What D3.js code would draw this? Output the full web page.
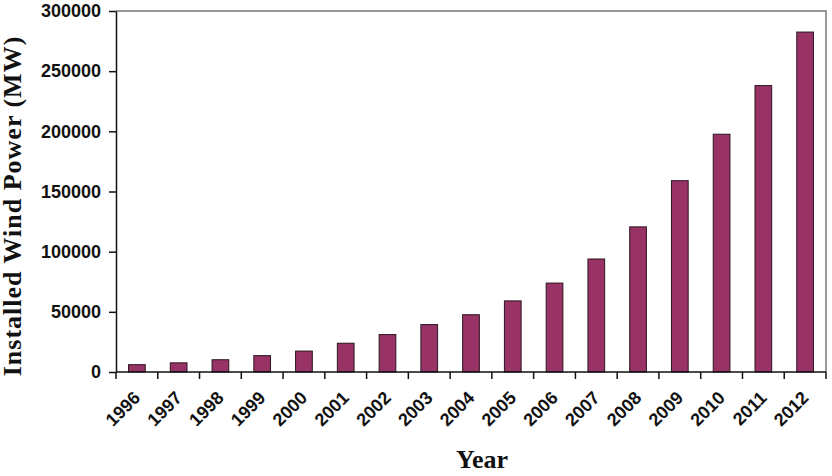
<html>
<head>
    <script src="https://d3js.org/d3.v7.min.js" charset="utf-8"></script>
</head>
<body style="margin:0">
    <script type="text/javascript">
        var width = 832;
        var height = 476;

        var margin = { top: 11, right: 6, bottom: 104, left: 116 };

        // Installed wind power by year (MW)
        const years = ["1996", "1997", "1998", "1999", "2000", "2001", "2002", "2003", "2004",
                       "2005", "2006", "2007", "2008", "2009", "2010", "2011", "2012"];
        const capacity = [6100, 7600, 10200, 13600, 17400, 23900, 31100, 39400, 47600,
                          59100, 73900, 93900, 120600, 159000, 197600, 238000, 282500];
        const yTicks = [0, 50000, 100000, 150000, 200000, 250000, 300000];

        const data = years.map((y, i) => ({ year: y, value: capacity[i] }));

        const svg = d3.select("body").append("svg")
            .attr("width", width)
            .attr("height", height)
            .style("background", "white");

        const xScale = d3.scaleBand()
            .domain(years)
            .range([margin.left, width - margin.right])
            .paddingInner(0.6)
            .paddingOuter(0.3);

        const yScale = d3.scaleLinear()
            .domain([0, 300000])
            .range([height - margin.bottom, margin.top]);

        const x0 = margin.left, x1 = width - margin.right;
        const y0 = height - margin.bottom, y1 = margin.top;
        const step = (x1 - x0) / years.length;

        // plot frame (top and right)
        svg.append("path")
            .attr("d", `M${x0},${y1}H${x1}V${y0}`)
            .attr("fill", "none")
            .attr("stroke", "#777")
            .attr("stroke-width", 1.5);

        // bars
        svg.append("g")
            .selectAll("rect")
            .data(data)
            .join("rect")
                .attr("x", d => xScale(d.year))
                .attr("y", d => yScale(d.value))
                .attr("width", xScale.bandwidth())
                .attr("height", d => yScale(0) - yScale(d.value))
                .attr("fill", "#993366")
                .attr("stroke", "#2a1520")
                .attr("stroke-width", 1);

        // y axis
        const yAxis = svg.append("g")
            .attr("transform", `translate(${x0},0)`)
            .call(d3.axisLeft(yScale).tickValues(yTicks).tickSize(7).tickSizeOuter(0).tickPadding(8).tickFormat(d3.format("d")));
        yAxis.selectAll("text")
            .style("font-family", "'Liberation Sans', Arial, sans-serif")
            .style("font-weight", "bold")
            .style("font-size", "18px")
            .attr("fill", "#111");
        yAxis.select(".domain").attr("stroke", "#111").attr("stroke-width", 1.5);
        yAxis.selectAll(".tick line").attr("stroke", "#111").attr("stroke-width", 1.5);

        // x axis: ticks between categories
        const xAxis = svg.append("g").attr("transform", `translate(0,${y0})`);
        xAxis.append("line")
            .attr("x1", x0).attr("x2", x1)
            .attr("stroke", "#111").attr("stroke-width", 1.5);
        xAxis.selectAll(".tick")
            .data(d3.range(years.length + 1))
            .join("line")
                .attr("x1", i => x0 + i * step)
                .attr("x2", i => x0 + i * step)
                .attr("y1", 0).attr("y2", 7)
                .attr("stroke", "#111").attr("stroke-width", 1.5);
        xAxis.selectAll(".lbl")
            .data(years)
            .join("text")
                .attr("transform", d => `translate(${xScale(d) + xScale.bandwidth() / 2 + 4.5},27) rotate(-45)`)
                .attr("text-anchor", "end")
                .style("font-family", "'Liberation Sans', Arial, sans-serif")
                .style("font-weight", "bold")
                .style("font-size", "18px")
                .attr("fill", "#111")
                .text(d => d);

        // axis titles
        svg.append("text")
            .attr("transform", `translate(21,206) rotate(-90)`)
            .attr("text-anchor", "middle")
            .style("font-family", "'Liberation Serif', 'Times New Roman', serif")
            .style("font-weight", "bold")
            .style("font-size", "26px")
            .style("letter-spacing", "1px")
            .attr("fill", "#111")
            .text("Installed Wind Power (MW)");

        svg.append("text")
            .attr("x", 482)
            .attr("y", 468)
            .attr("text-anchor", "middle")
            .style("font-family", "'Liberation Serif', 'Times New Roman', serif")
            .style("font-weight", "bold")
            .style("font-size", "26px")
            .attr("fill", "#111")
            .text("Year");
    </script>
</body>
</html>
